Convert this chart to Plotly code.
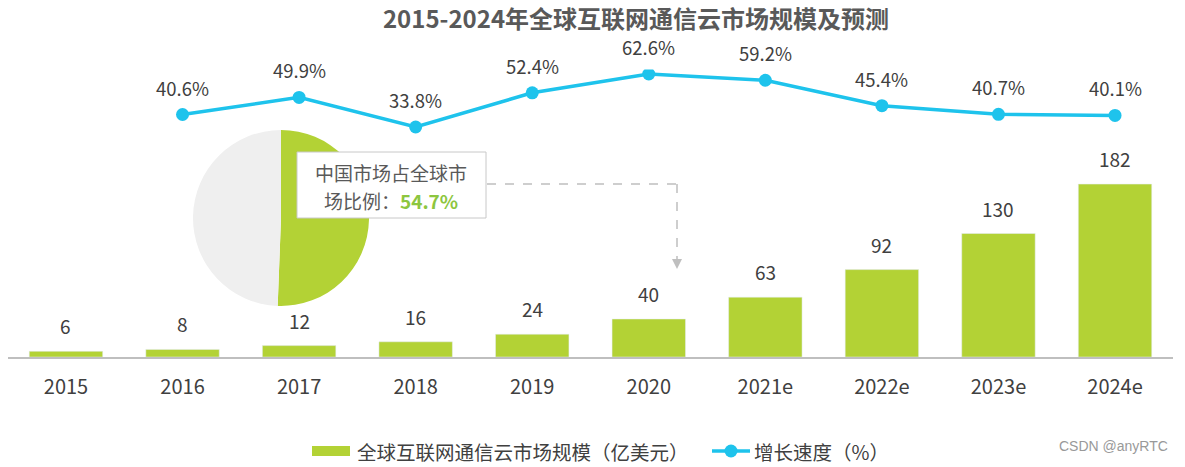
import plotly.graph_objects as go

# ---- data ----
years = ["2015", "2016", "2017", "2018", "2019", "2020", "2021e", "2022e", "2023e", "2024e"]
market_size = [6, 8, 12, 16, 24, 40, 63, 92, 130, 182]
growth_rate = [40.6, 49.9, 33.8, 52.4, 62.6, 59.2, 45.4, 40.7, 40.1]
growth_years = ["2016", "2017", "2018", "2019", "2020", "2021e", "2022e", "2023e", "2024e"]
pie_labels = ["中国", "其他"]
pie_values = [50.6, 49.4]   # as drawn in the picture
china_share_text = "54.7%"
title_text = "2015-2024年全球互联网通信云市场规模及预测"
bar_name = "全球互联网通信云市场规模（亿美元）"
line_name = "增长速度（%）"

W, H = 1185, 467
def px(x):
    return x / W
def py(y):
    return 1 - y / H

FONT = "Noto Sans CJK SC"
GREEN = "#B3D235"
CYAN = "#1EC3EC"
TXT = "#404040"

fig = go.Figure()

fig.add_trace(go.Pie(
    labels=pie_labels, values=pie_values, sort=False, direction="clockwise", rotation=0,
    marker=dict(colors=[GREEN, "#EFEFEF"], line=dict(width=0)),
    textinfo="none", hoverinfo="skip", showlegend=False,
    domain=dict(x=[px(193), px(369)], y=[py(306), py(130)]),
))

fig.add_trace(go.Bar(
    x=years, y=market_size, name=bar_name, marker_color=GREEN,
    xaxis="x", yaxis="y", showlegend=False,
))

fig.add_trace(go.Scatter(
    x=growth_years, y=growth_rate, name=line_name, mode="lines+markers",
    line=dict(color=CYAN, width=3.5), marker=dict(size=13, color=CYAN),
    xaxis="x", yaxis="y2", showlegend=False,
))

annotations = []
# on a category axis, annotation positions are given as category indices
for yr, v in zip(years, market_size):
    annotations.append(dict(x=years.index(yr), y=v, xref="x", yref="y", text=str(v), showarrow=False,
                            yanchor="bottom", yshift=10, font=dict(size=19, color=TXT, family=FONT)))
for yr, v in zip(growth_years, growth_rate):
    annotations.append(dict(x=years.index(yr), y=v, xref="x", yref="y2", text=f"{v:.1f}%", showarrow=False,
                            yanchor="bottom", yshift=12, font=dict(size=18.5, color=TXT, family=FONT)))

# callout text
annotations.append(dict(x=px(391), y=py(172), xref="paper", yref="paper", xanchor="center", yanchor="middle",
                        text="中国市场占全球市", showarrow=False, font=dict(size=19, color="#595959", family=FONT)))
annotations.append(dict(x=px(391), y=py(200), xref="paper", yref="paper", xanchor="center", yanchor="middle",
                        text=f"场比例：<b><span style='color:#8DC63F'>{china_share_text}</span></b>", showarrow=False,
                        font=dict(size=19, color="#595959", family=FONT)))
# legend texts (drawn manually)
annotations.append(dict(x=px(355), y=py(451), xref="paper", yref="paper", xanchor="left", yanchor="middle",
                        text=bar_name, showarrow=False, font=dict(size=19.5, color=TXT, family=FONT)))
annotations.append(dict(x=px(752), y=py(451), xref="paper", yref="paper", xanchor="left", yanchor="middle",
                        text=line_name, showarrow=False, font=dict(size=19.5, color=TXT, family=FONT)))
# watermark
annotations.append(dict(x=px(1170), y=py(446), xref="paper", yref="paper", xanchor="right", yanchor="middle",
                        text="CSDN @anyRTC", showarrow=False, font=dict(size=14, color="#999999", family="Liberation Sans")))

shapes = [
    dict(type="rect", xref="paper", yref="paper", x0=px(297), x1=px(486), y0=py(218), y1=py(152),
         line=dict(color="#C8C8C8", width=1), fillcolor="white", layer="above"),
    dict(type="line", xref="paper", yref="paper", x0=px(487), x1=px(677), y0=py(184), y1=py(184),
         line=dict(color="#BFBFBF", width=1.5, dash="dash")),
    dict(type="line", xref="paper", yref="paper", x0=px(677), x1=px(677), y0=py(184), y1=py(260),
         line=dict(color="#BFBFBF", width=1.5, dash="dash")),
    dict(type="path", xref="paper", yref="paper",
         path=f"M {px(672)} {py(259)} L {px(682)} {py(259)} L {px(677)} {py(269)} Z",
         fillcolor="#BFBFBF", line=dict(width=0)),
    # legend symbols
    dict(type="rect", xref="paper", yref="paper", x0=px(312), x1=px(350), y0=py(456), y1=py(446),
         fillcolor=GREEN, line=dict(width=0)),
    dict(type="line", xref="paper", yref="paper", x0=px(712), x1=px(750), y0=py(451), y1=py(451),
         line=dict(color=CYAN, width=3.5)),
    dict(type="circle", xref="paper", yref="paper", x0=px(724.5), x1=px(737.5), y0=py(457.5), y1=py(444.5),
         fillcolor=CYAN, line=dict(width=0)),
]

fig.update_layout(
    width=W, height=H, margin=dict(l=0, r=0, t=0, b=0),
    paper_bgcolor="white", plot_bgcolor="rgba(0,0,0,0)",
    font=dict(family=FONT, color=TXT),
    title=dict(text=f"<b>{title_text}</b>", x=px(636), xanchor="center", y=py(19.5), yanchor="middle",
               font=dict(size=24, color="#595959", family=FONT)),
    bargap=0.37,
    xaxis=dict(type="category", categoryorder="array", categoryarray=years,
               range=[-0.5, len(years) - 0.5], autorange=False,
               domain=[px(7.7), px(1173.3)], showline=True, linecolor="#BFBFBF", linewidth=1.5,
               showgrid=False, zeroline=False, ticks="", ticklabelstandoff=11,
               tickfont=dict(size=20, color=TXT, family=FONT), anchor="y"),
    yaxis=dict(domain=[py(357), py(167)], range=[0, 200], visible=False, showgrid=False),
    yaxis2=dict(domain=[py(134), py(69.6)], range=[30, 65], visible=False, showgrid=False, anchor="x"),
    annotations=annotations, shapes=shapes,
    showlegend=False,
)

fig.write_html("out.html")
